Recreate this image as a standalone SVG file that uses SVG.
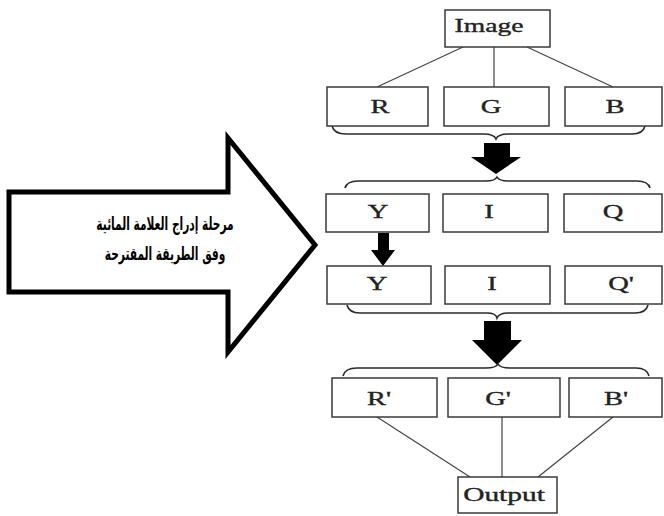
<svg xmlns="http://www.w3.org/2000/svg" width="664" height="516" viewBox="0 0 664 516">
  <defs>
    <style>
      .box { fill: #ffffff; stroke: #3a3a3a; stroke-width: 1.5; }
      .lbl { font-family: "Liberation Serif", "Times New Roman", serif; font-size: 19px; fill: #222222; stroke: #222222; stroke-width: 0.35; text-anchor: middle; }
      .conn { fill: none; stroke: #444444; stroke-width: 1.2; }
      .brace { fill: none; stroke: #2a2a2a; stroke-width: 1.6; }
      .blk { fill: #000000; }
      .ar { font-family: "DejaVu Sans", "Liberation Sans", Arial, sans-serif; font-size: 18px; font-weight: bold; fill: #000000; text-anchor: middle; }
    </style>
  </defs>
  <rect width="664" height="516" fill="#ffffff"/>

  <!-- connectors: tree lines, braces and block arrows -->
  <g id="connectors">
    <line class="conn" x1="463" y1="47" x2="377" y2="87"/>
    <line class="conn" x1="494" y1="47" x2="494" y2="87"/>
    <line class="conn" x1="527" y1="47" x2="613" y2="87"/>

    <path class="brace" d="M332,126 Q334,134 346,134 L484,134 Q494,134 496,139 Q498,134 508,134 L632,134 Q643,134 645,126"/>
    <polygon class="blk" points="484,143 510,143 510,157 521,157 496,174 471,157 484,157"/>

    <path class="brace" d="M345,188 Q347,181 358,181 L486,181 Q495,181 497,177 Q499,181 508,181 L637,181 Q648,181 650,188"/>

    <polygon class="blk" points="378,233 389,233 389,250 395,250 383,266 371,250 378,250"/>

    <path class="brace" d="M347,305 Q349,313 360,313 L487,313 Q496,313 497,318 Q499,313 508,313 L635,313 Q646,313 648,305"/>
    <polygon class="blk" points="484,321 511,321 511,340 522,340 497,365 472,340 484,340"/>

    <path class="brace" d="M343,376 Q345,368 357,368 L486,368 Q496,368 498,364 Q500,368 510,368 L636,368 Q647,368 649,376"/>

    <line class="conn" x1="377" y1="417" x2="470" y2="477"/>
    <line class="conn" x1="502" y1="417" x2="502" y2="477"/>
    <line class="conn" x1="613" y1="417" x2="538" y2="477"/>
  </g>

  <!-- box labels are set in a horizontally widened serif -->
  <g id="image"><rect class="box" x="445" y="10" width="105" height="37"/><text class="lbl" transform="translate(489,32) scale(1.45,1)">Image</text></g>

  <g id="r"><rect class="box" x="327" y="87" width="101" height="39"/><text class="lbl" transform="translate(380,113) scale(1.5,1)">R</text></g>
  <g id="g"><rect class="box" x="444" y="87" width="105" height="39"/><text class="lbl" transform="translate(491,113) scale(1.5,1)">G</text></g>
  <g id="b"><rect class="box" x="565" y="87" width="97" height="39"/><text class="lbl" transform="translate(615,113) scale(1.5,1)">B</text></g>

  <g id="y1"><rect class="box" x="326" y="194" width="103" height="38"/><text class="lbl" transform="translate(378,218) scale(1.5,1)">Y</text></g>
  <g id="i1"><rect class="box" x="443" y="194" width="105" height="38"/><text class="lbl" transform="translate(489,218) scale(1.5,1)">I</text></g>
  <g id="q1"><rect class="box" x="564" y="194" width="98" height="38"/><text class="lbl" transform="translate(613,218) scale(1.5,1)">Q</text></g>

  <g id="y2"><rect class="box" x="327" y="266" width="104" height="38"/><text class="lbl" transform="translate(377,290) scale(1.5,1)">Y</text></g>
  <g id="i2"><rect class="box" x="445" y="266" width="105" height="38"/><text class="lbl" transform="translate(492,290) scale(1.5,1)">I</text></g>
  <g id="q2"><rect class="box" x="565" y="266" width="97" height="38"/><text class="lbl" transform="translate(621,290) scale(1.5,1)">Q'</text></g>

  <g id="r2"><rect class="box" x="332" y="378" width="105" height="39"/><text class="lbl" transform="translate(379,405) scale(1.5,1)">R'</text></g>
  <g id="g2"><rect class="box" x="448" y="378" width="112" height="39"/><text class="lbl" transform="translate(498,405) scale(1.5,1)">G'</text></g>
  <g id="b2"><rect class="box" x="569" y="378" width="93" height="39"/><text class="lbl" transform="translate(616,405) scale(1.5,1)">B'</text></g>

  <g id="output"><rect class="box" x="458" y="477" width="99" height="36"/><text class="lbl" transform="translate(504,501) scale(1.55,1)">Output</text></g>

  <!-- embedding stage callout -->
  <g id="stage">
    <polygon points="9,192 228,192 228,138 315,245 228,352 228,292 9,292" fill="#ffffff" stroke="#000000" stroke-width="5" stroke-linejoin="miter"/>
    <text class="ar" direction="rtl" transform="translate(165,230) scale(0.59,1)">مرحلة إدراج العلامة المائية</text>
    <text class="ar" direction="rtl" transform="translate(165,260) scale(0.59,1)">وفق الطريقة المقترحة</text>
  </g>
</svg>
